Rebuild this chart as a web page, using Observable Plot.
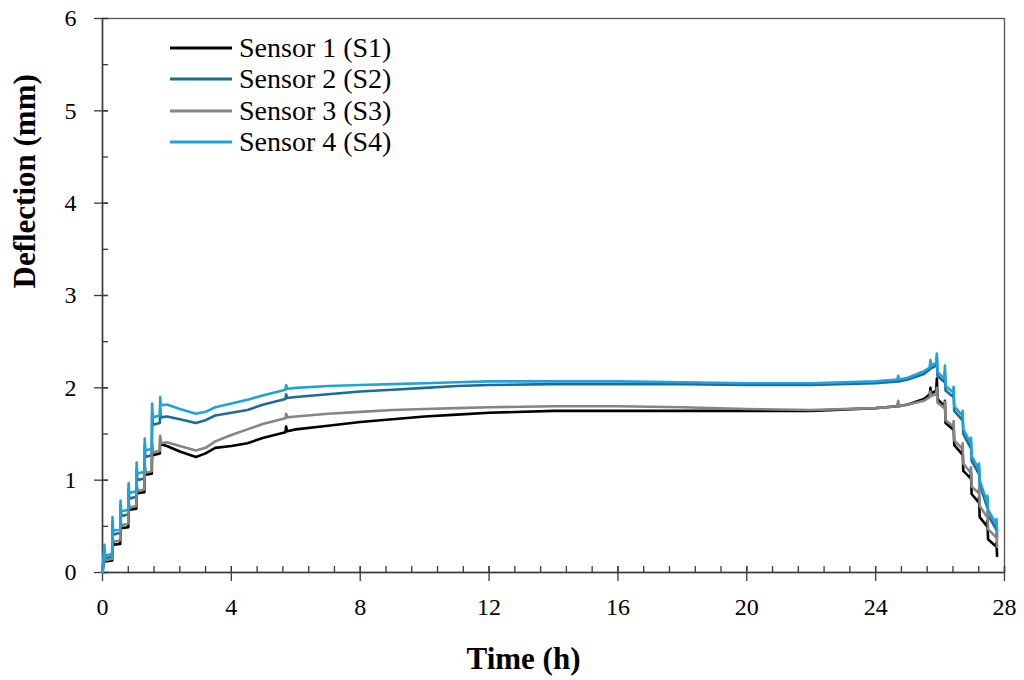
<!DOCTYPE html>
<html>
<head>
<meta charset="utf-8">
<script src="https://cdn.jsdelivr.net/npm/d3@7"></script>
<script src="https://cdn.jsdelivr.net/npm/@observablehq/plot@0.6"></script>
<style>
  html, body { margin: 0; padding: 0; background: #fff; }
  #wrap { position: relative; width: 1024px; height: 680px; overflow: hidden; }
  #legend { position: absolute; left: 170px; top: 32px; font-family: "Liberation Serif", "Times New Roman", serif; font-size: 28px; color: #000; }
  #legend .row { display: flex; align-items: center; height: 31.5px; }
  #legend svg { margin-right: 7px; }
</style>
</head>
<body>
<div id="wrap"><div id="legend"></div></div>
<script>
// ---- data (time in hours, deflection in mm) ----
const time = [0, 0.06, 0.08, 0.30, 0.31, 0.33, 0.55, 0.56, 0.58, 0.80, 0.81, 0.83,
  1.05, 1.06, 1.08, 1.30, 1.31, 1.33, 1.53, 1.54, 1.56, 1.78, 1.79, 1.81,
  2.0, 2.4, 2.9, 3.2, 3.5, 4.0, 4.5, 5.0, 5.68, 5.70, 5.73,
  6, 7, 8, 9, 10, 11, 12, 14, 16, 18, 20, 22, 24,
  24.68, 24.70, 24.72, 25.0, 25.5, 25.68, 25.70, 25.72,
  25.88, 25.90, 25.92, 26.14, 26.15, 26.17, 26.41, 26.42, 26.44,
  26.69, 26.70, 26.72, 26.95, 26.96, 26.98, 27.20, 27.21, 27.23,
  27.46, 27.47, 27.49, 27.74, 27.75, 27.77];

const s1 = [0, 0.18, 0.12, 0.13, 0.38, 0.30, 0.31, 0.56, 0.48, 0.49, 0.76, 0.68,
  0.69, 0.95, 0.86, 0.87, 1.15, 1.06, 1.07, 1.36, 1.27, 1.29, 1.45, 1.39,
  1.37, 1.31, 1.25, 1.29, 1.35, 1.37, 1.40, 1.46, 1.52, 1.58, 1.53,
  1.55, 1.59, 1.63, 1.66, 1.69, 1.71, 1.73, 1.75, 1.75, 1.75, 1.75, 1.75, 1.78,
  1.80, 1.84, 1.80, 1.82, 1.88, 1.93, 2.00, 1.94,
  1.97, 2.10, 1.88, 1.80, 1.86, 1.62, 1.55, 1.60, 1.38,
  1.28, 1.34, 1.10, 1.02, 1.08, 0.85, 0.76, 0.82, 0.60,
  0.50, 0.56, 0.36, 0.28, 0.32, 0.18];

const s2 = [0, 0.26, 0.15, 0.17, 0.55, 0.41, 0.43, 0.72, 0.61, 0.63, 0.91, 0.80,
  0.82, 1.12, 1.00, 1.02, 1.38, 1.25, 1.27, 1.73, 1.60, 1.62, 1.78, 1.68,
  1.69, 1.66, 1.62, 1.65, 1.70, 1.73, 1.76, 1.82, 1.88, 1.93, 1.89,
  1.90, 1.93, 1.96, 1.98, 2.00, 2.02, 2.03, 2.04, 2.04, 2.04, 2.03, 2.03, 2.05,
  2.07, 2.11, 2.07, 2.09, 2.15, 2.20, 2.27, 2.21,
  2.24, 2.33, 2.13, 2.06, 2.18, 1.97, 1.90, 1.96, 1.75,
  1.65, 1.70, 1.50, 1.35, 1.41, 1.21, 1.07, 1.13, 0.95,
  0.71, 0.78, 0.62, 0.47, 0.52, 0.38];

const s3 = [0, 0.22, 0.13, 0.15, 0.45, 0.33, 0.35, 0.62, 0.51, 0.53, 0.80, 0.70,
  0.72, 0.99, 0.88, 0.90, 1.20, 1.08, 1.10, 1.40, 1.30, 1.32, 1.48, 1.40,
  1.41, 1.37, 1.32, 1.35, 1.42, 1.49, 1.55, 1.61, 1.67, 1.72, 1.68,
  1.69, 1.72, 1.74, 1.76, 1.77, 1.78, 1.79, 1.80, 1.80, 1.79, 1.77, 1.76, 1.78,
  1.80, 1.86, 1.80, 1.82, 1.86, 1.90, 1.96, 1.91,
  1.93, 2.00, 1.84, 1.78, 1.85, 1.65, 1.58, 1.64, 1.43,
  1.34, 1.40, 1.18, 1.08, 1.14, 0.93, 0.86, 0.92, 0.72,
  0.60, 0.66, 0.47, 0.38, 0.43, 0.28];

const s4 = [0, 0.30, 0.18, 0.20, 0.60, 0.45, 0.47, 0.78, 0.66, 0.68, 0.97, 0.86,
  0.88, 1.19, 1.07, 1.09, 1.45, 1.32, 1.34, 1.83, 1.68, 1.70, 1.90, 1.81,
  1.82, 1.77, 1.72, 1.74, 1.79, 1.83, 1.87, 1.92, 1.98, 2.03, 1.99,
  2.00, 2.02, 2.03, 2.04, 2.05, 2.06, 2.07, 2.07, 2.07, 2.06, 2.05, 2.05, 2.07,
  2.09, 2.13, 2.09, 2.11, 2.18, 2.22, 2.30, 2.24,
  2.27, 2.37, 2.17, 2.10, 2.24, 2.02, 1.95, 2.01, 1.80,
  1.70, 1.75, 1.55, 1.40, 1.46, 1.26, 1.12, 1.18, 1.00,
  0.76, 0.83, 0.68, 0.52, 0.58, 0.45];

const seriesNames = ["Sensor 1 (S1)", "Sensor 2 (S2)", "Sensor 3 (S3)", "Sensor 4 (S4)"];
const seriesColors = ["#000000", "#1f6b94", "#858585", "#1fa3da"];
const xTicks = [0, 4, 8, 12, 16, 20, 24, 28];
const yTicks = [0, 1, 2, 3, 4, 5, 6];
const xTitle = "Time (h)";
const yTitle = "Deflection (mm)";

// ---- build table ----
const seriesValues = [s1, s2, s3, s4];
const data = [];
seriesValues.forEach((vals, i) => {
  vals.forEach((v, j) => data.push({series: seriesNames[i], t: time[j], v}));
});
const xMinor = d3.range(0, 28.001, 0.8);
const yMinor = d3.range(0, 6.001, 0.5);

const W = 1024, H = 680, mL = 102, mR = 20, mT = 18, mB = 108;
const innerW = W - mL - mR, innerH = H - mT - mB;
const axisColor = "#3a3a3a";

const chart = Plot.plot({
  width: W, height: H,
  marginLeft: mL, marginRight: mR, marginTop: mT, marginBottom: mB,
  x: {domain: [0, 28]},
  y: {domain: [0, 6]},
  color: {domain: seriesNames, range: seriesColors},
  style: {fontFamily: "'Liberation Serif', 'Times New Roman', serif", fontSize: "24px", color: "#000", background: "#fff"},
  marks: [
    Plot.frame({stroke: "#555", strokeWidth: 1.3}),
    Plot.ruleX(xMinor, {x: d => d, insetTop: innerH - 6, stroke: axisColor, strokeWidth: 1.3}),
    Plot.ruleX(xTicks, {x: d => d, insetTop: innerH - 6, insetBottom: -9, stroke: axisColor, strokeWidth: 1.3}),
    Plot.ruleY(yMinor, {y: d => d, insetRight: innerW - 6, stroke: axisColor, strokeWidth: 1.3}),
    Plot.ruleY(yTicks, {y: d => d, insetRight: innerW - 6, insetLeft: -8, stroke: axisColor, strokeWidth: 1.3}),
    Plot.ruleY([0], {stroke: axisColor, strokeWidth: 1.5}),
    Plot.ruleX([0], {stroke: axisColor, strokeWidth: 1.5}),
    Plot.axisX(xTicks, {tickSize: 0, tickPadding: 25, label: null, fontSize: 24, tickFormat: d3.format("d")}),
    Plot.axisY(yTicks, {tickSize: 0, tickPadding: 26, label: null, fontSize: 24, tickFormat: d3.format("d")}),
    Plot.line(data, {x: "t", y: "v", z: "series", stroke: "series", strokeWidth: 2.6, curve: "linear"}),
    Plot.text([xTitle], {frameAnchor: "bottom", dy: 87, dx: -30, fontWeight: "bold", fontSize: 31, lineAnchor: "middle"}),
    Plot.text([yTitle], {frameAnchor: "left", rotate: -90, dx: -77, dy: -7, fontWeight: "bold", fontSize: 31, lineAnchor: "middle"})
  ]
});
document.getElementById("wrap").prepend(chart);

// ---- legend ----
const legend = document.getElementById("legend");
seriesNames.forEach((name, i) => {
  const row = document.createElement("div");
  row.className = "row";
  row.innerHTML = `<svg width="62" height="6"><line x1="0" y1="3" x2="62" y2="3" stroke="${seriesColors[i]}" stroke-width="3"/></svg><span>${name}</span>`;
  legend.appendChild(row);
});
</script>
</body>
</html>
